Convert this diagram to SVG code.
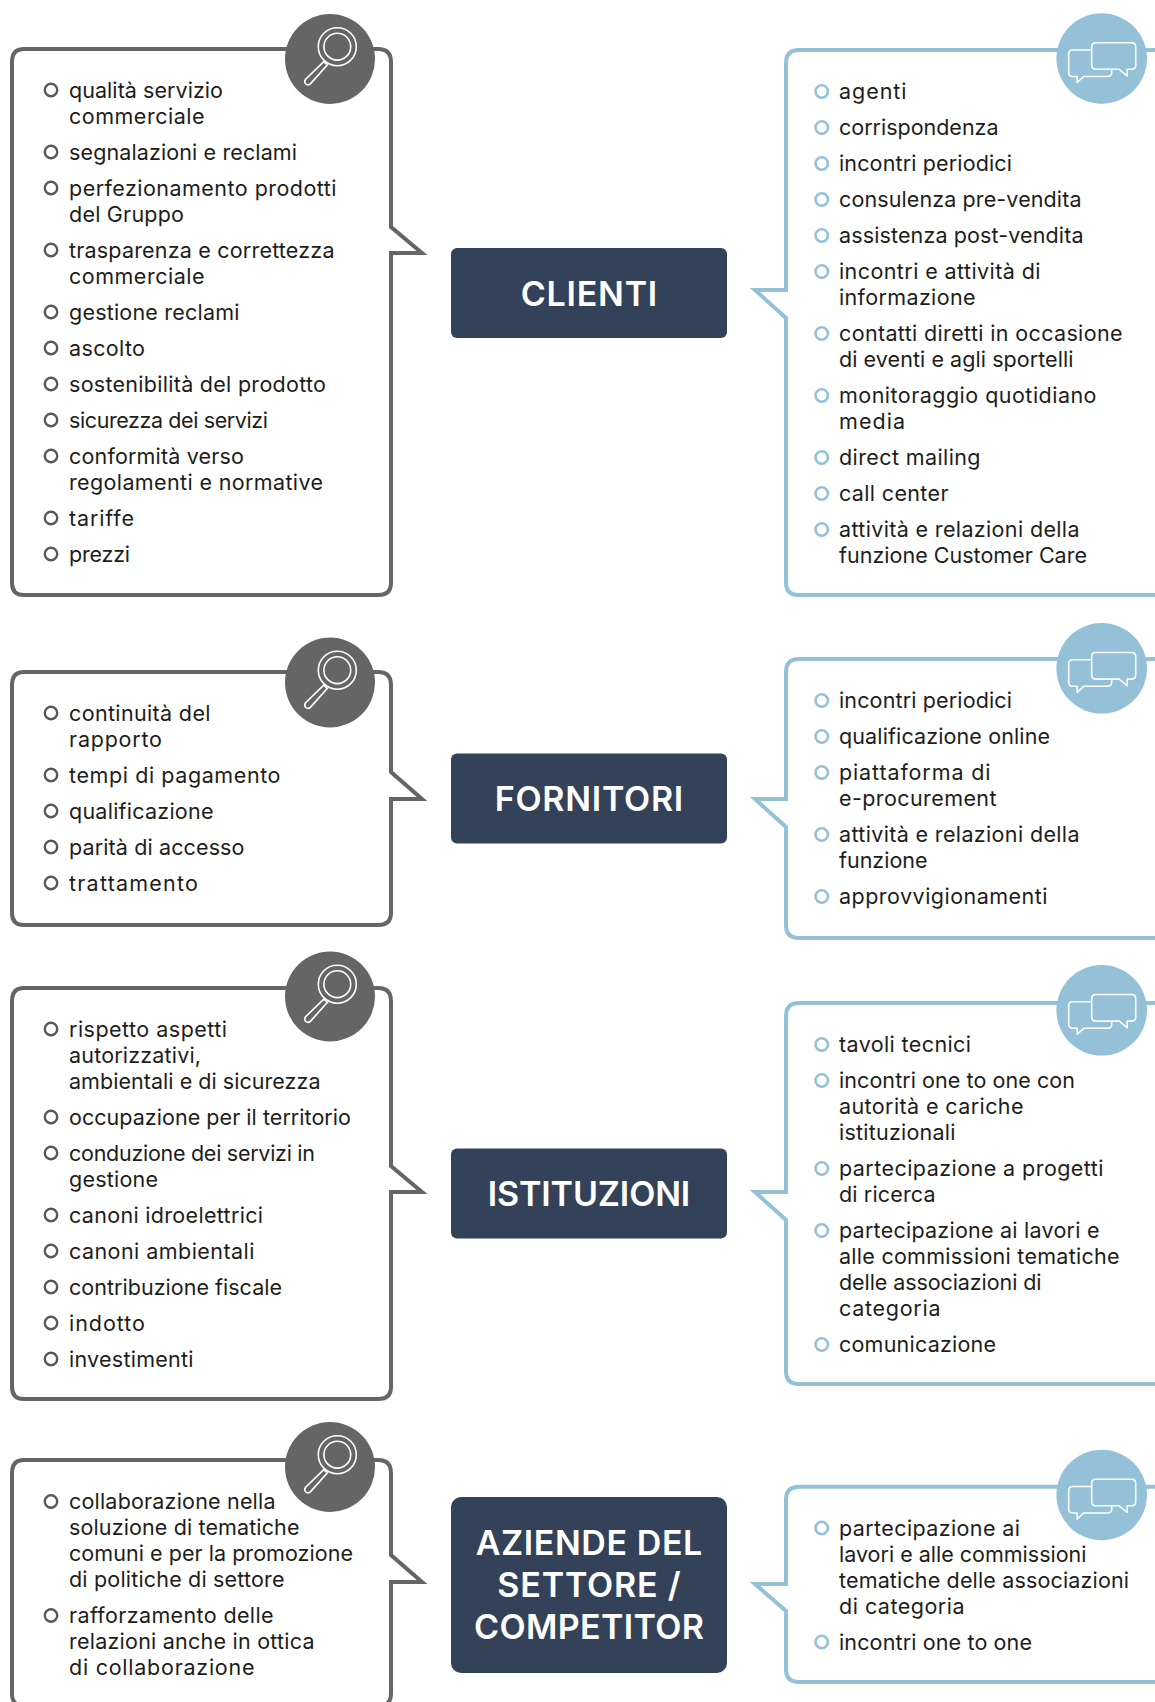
<svg xmlns="http://www.w3.org/2000/svg" width="1155" height="1702" viewBox="0 0 1155 1702">
<style>
text{font-family:"Inter","Lato","Liberation Sans",sans-serif;font-variant-ligatures:none}
.t{font-size:21.5px;fill:#1d1d1b}
.h{font-size:34px;font-weight:600;fill:#fff;text-anchor:middle}
.lb{fill:none;stroke:#666566;stroke-width:4;stroke-linejoin:miter}
.rb{fill:none;stroke:#94c1d8;stroke-width:4;stroke-linejoin:miter}
.ld{fill:none;stroke:#58585a;stroke-width:2.4}
.rd{fill:none;stroke:#94c1d8;stroke-width:2.6}
.c{fill:#334259}
</style>
<defs>
<g id="lens">
<circle r="45" fill="#666566"/>
<g fill="none" stroke="#fff" stroke-width="1.6">
<circle cx="7.3" cy="-12.3" r="19"/>
<circle cx="7.3" cy="-12.3" r="13.4"/>
<path d="M-6.2 2.6L-2.6 5.8L-19.4 24.6C-21 26.2 -22.8 26.2 -24.2 25C-25.6 23.6 -25.6 21.8 -24.4 20.2Z"/>
</g>
</g>
<g id="talk">
<circle r="45.300" fill="#94c1d8"/>
<g fill="#94c1d8" stroke="#fff" stroke-width="1.6" stroke-linejoin="round">
<path d="M-29 -8.5H6C8.5 -8.5 10 -7 10 -4.5V14C10 16.5 8.5 18 6 18H-18L-24.500 24V18H-29C-31.500 18 -33 16.500 -33 14V-4.500C-33 -7 -31.500 -8.500 -29 -8.500Z"/>
<path d="M-6 -15.800H30C32.500 -15.800 34 -14.300 34 -11.800V6.800C34 9.300 32.500 10.800 30 10.800H25.500V17.500L17.500 10.800H-6C-8.500 10.800 -10 9.300 -10 6.800V-11.800C-10 -14.300 -8.500 -15.800 -6 -15.800Z"/>
</g>
</g>
</defs>
<rect width="1155" height="1702" fill="#fff"/>

<g id="clienti-ascolto">
<path class="lb" d="M391 227V62Q391 49 378 49H24Q12 49 12 62V583Q12 595 24 595H378Q391 595 391 583V253H422L391 227Z"/>
<use href="#lens" x="330" y="59"/>
<g class="ld"><circle cx="51" cy="90" r="6.2"/><circle cx="51" cy="152" r="6.2"/><circle cx="51" cy="188" r="6.2"/><circle cx="51" cy="250" r="6.2"/><circle cx="51" cy="312" r="6.2"/><circle cx="51" cy="348" r="6.2"/><circle cx="51" cy="384" r="6.2"/><circle cx="51" cy="420" r="6.2"/><circle cx="51" cy="456" r="6.2"/><circle cx="51" cy="518" r="6.2"/><circle cx="51" cy="554" r="6.2"/></g>
<g class="t">
<text x="69" y="97.700" textLength="154">qualità servizio</text><text x="69" y="123.700" textLength="135.500">commerciale</text>
<text x="69" y="159.700" textLength="228">segnalazioni e reclami</text>
<text x="69" y="195.700" textLength="267.500">perfezionamento prodotti</text><text x="69" y="221.700" textLength="115">del Gruppo</text>
<text x="69" y="257.700" textLength="265.500">trasparenza e correttezza</text><text x="69" y="283.700" textLength="135.500">commerciale</text>
<text x="69" y="319.700" textLength="170.500">gestione reclami</text>
<text x="69" y="355.700" textLength="76">ascolto</text>
<text x="69" y="391.700" textLength="257">sostenibilità del prodotto</text>
<text x="69" y="427.700" textLength="199">sicurezza dei servizi</text>
<text x="69" y="464" textLength="175">conformità verso</text><text x="69" y="490" textLength="254">regolamenti e normative</text>
<text x="69" y="526" textLength="65">tariffe</text>
<text x="69" y="562" textLength="61">prezzi</text>
</g>
</g>

<g id="clienti">
<rect class="c" x="451" y="248" width="276" height="90" rx="6"/>
<text class="h" x="589" y="305.700" textLength="136.500">CLIENTI</text>
</g>

<g id="clienti-dialogo">
<path class="rb" d="M1157 50H799Q786 50 786 63V290H755L786 318V583Q786 595 799 595H1157"/>
<use href="#talk" x="1101.700" y="58.500"/>
<g class="rd"><circle cx="821.700" cy="91.500" r="6.200"/><circle cx="821.700" cy="127.500" r="6.200"/><circle cx="821.700" cy="163.500" r="6.200"/><circle cx="821.700" cy="199.500" r="6.200"/><circle cx="821.700" cy="235.500" r="6.200"/><circle cx="821.700" cy="271.500" r="6.200"/><circle cx="821.700" cy="333.500" r="6.200"/><circle cx="821.700" cy="395.500" r="6.200"/><circle cx="821.700" cy="457.500" r="6.200"/><circle cx="821.700" cy="493.500" r="6.200"/><circle cx="821.700" cy="529.500" r="6.200"/></g>
<g class="t">
<text x="839" y="99" textLength="67.500">agenti</text>
<text x="839" y="135" textLength="159.500">corrispondenza</text>
<text x="839" y="171" textLength="173">incontri periodici</text>
<text x="839" y="207" textLength="242.500">consulenza pre-vendita</text>
<text x="839" y="243" textLength="244.500">assistenza post-vendita</text>
<text x="839" y="279" textLength="201.500">incontri e attività di</text><text x="839" y="305" textLength="136.500">informazione</text>
<text x="839" y="341" textLength="283.500">contatti diretti in occasione</text><text x="839" y="367" textLength="234.500">di eventi e agli sportelli</text>
<text x="839" y="403" textLength="257.500">monitoraggio quotidiano</text><text x="839" y="429" textLength="66">media</text>
<text x="839" y="465" textLength="141.500">direct mailing</text>
<text x="839" y="501" textLength="109.500">call center</text>
<text x="839" y="537" textLength="240.500">attività e relazioni della</text><text x="839" y="563" textLength="248">funzione Customer Care</text>
</g>
</g>

<g id="fornitori-ascolto">
<path class="lb" d="M391 772V685Q391 672 378 672H24Q12 672 12 685V913Q12 925 24 925H378Q391 925 391 913V799H422L391 772Z"/>
<use href="#lens" x="330" y="682.500"/>
<g class="ld"><circle cx="51" cy="713" r="6.200"/><circle cx="51" cy="775" r="6.200"/><circle cx="51" cy="811" r="6.200"/><circle cx="51" cy="847" r="6.200"/><circle cx="51" cy="883" r="6.200"/></g>
<g class="t">
<text x="69" y="720.800" textLength="141.500">continuità del</text><text x="69" y="746.800" textLength="93">rapporto</text>
<text x="69" y="782.800" textLength="211.500">tempi di pagamento</text>
<text x="69" y="818.800" textLength="144.500">qualificazione</text>
<text x="69" y="854.800" textLength="175.500">parità di accesso</text>
<text x="69" y="890.800" textLength="129">trattamento</text>
</g>
</g>

<g id="fornitori">
<rect class="c" x="451" y="753.500" width="276" height="90" rx="6"/>
<text class="h" x="589" y="811" textLength="188.500">FORNITORI</text>
</g>

<g id="fornitori-dialogo">
<path class="rb" d="M1157 659H799Q786 659 786 672V799H755L786 827V925Q786 938 799 938H1157"/>
<use href="#talk" x="1101.700" y="668.300"/>
<g class="rd"><circle cx="821.700" cy="700.500" r="6.200"/><circle cx="821.700" cy="736.500" r="6.200"/><circle cx="821.700" cy="772.500" r="6.200"/><circle cx="821.700" cy="834.500" r="6.200"/><circle cx="821.700" cy="896.500" r="6.200"/></g>
<g class="t">
<text x="839" y="708.300" textLength="173">incontri periodici</text>
<text x="839" y="744.300" textLength="211">qualificazione online</text>
<text x="839" y="780.300" textLength="151.500">piattaforma di</text><text x="839" y="806.300" textLength="157.500">e-procurement</text>
<text x="839" y="842.300" textLength="240.500">attività e relazioni della</text><text x="839" y="868.300" textLength="88.500">funzione</text>
<text x="839" y="904.300" textLength="208.500">approvvigionamenti</text>
</g>
</g>

<g id="istituzioni-ascolto">
<path class="lb" d="M391 1166V1001Q391 988 378 988H24Q12 988 12 1001V1387Q12 1399 24 1399H378Q391 1399 391 1387V1192H422L391 1166Z"/>
<use href="#lens" x="330" y="996.500"/>
<g class="ld"><circle cx="51" cy="1029" r="6.200"/><circle cx="51" cy="1117" r="6.200"/><circle cx="51" cy="1153" r="6.200"/><circle cx="51" cy="1215" r="6.200"/><circle cx="51" cy="1251" r="6.200"/><circle cx="51" cy="1287" r="6.200"/><circle cx="51" cy="1323" r="6.200"/><circle cx="51" cy="1359" r="6.200"/></g>
<g class="t">
<text x="69" y="1036.700" textLength="158">rispetto aspetti</text><text x="69" y="1062.700" textLength="132">autorizzativi,</text><text x="69" y="1088.700" textLength="251.500">ambientali e di sicurezza</text>
<text x="69" y="1124.700" textLength="282">occupazione per il territorio</text>
<text x="69" y="1160.700" textLength="246">conduzione dei servizi in</text><text x="69" y="1186.700" textLength="89">gestione</text>
<text x="69" y="1222.700" textLength="194">canoni idroelettrici</text>
<text x="69" y="1258.700" textLength="185.500">canoni ambientali</text>
<text x="69" y="1294.700" textLength="213">contribuzione fiscale</text>
<text x="69" y="1330.700" textLength="76">indotto</text>
<text x="69" y="1366.700" textLength="124.500">investimenti</text>
</g>
</g>

<g id="istituzioni">
<rect class="c" x="451" y="1148.500" width="276" height="90" rx="6"/>
<text class="h" x="589" y="1205.500" textLength="202.500">ISTITUZIONI</text>
</g>

<g id="istituzioni-dialogo">
<path class="rb" d="M1157 1003H799Q786 1003 786 1016V1192H755L786 1220V1371Q786 1384 799 1384H1157"/>
<use href="#talk" x="1101.700" y="1010.300"/>
<g class="rd"><circle cx="821.700" cy="1044.500" r="6.200"/><circle cx="821.700" cy="1080.500" r="6.200"/><circle cx="821.700" cy="1168.500" r="6.200"/><circle cx="821.700" cy="1230.500" r="6.200"/><circle cx="821.700" cy="1344.500" r="6.200"/></g>
<g class="t">
<text x="839" y="1052.300" textLength="132">tavoli tecnici</text>
<text x="839" y="1088.300" textLength="236">incontri one to one con</text><text x="839" y="1114.300" textLength="184.500">autorità e cariche</text><text x="839" y="1140.300" textLength="116.500">istituzionali</text>
<text x="839" y="1176.300" textLength="264.500">partecipazione a progetti</text><text x="839" y="1202.300" textLength="96.500">di ricerca</text>
<text x="839" y="1238.300" textLength="260.500">partecipazione ai lavori e</text><text x="839" y="1264.300" textLength="280.500">alle commissioni tematiche</text><text x="839" y="1290.300" textLength="202.500">delle associazioni di</text><text x="839" y="1316.300" textLength="101.500">categoria</text>
<text x="839" y="1352.300" textLength="157">comunicazione</text>
</g>
</g>

<g id="aziende-ascolto">
<path class="lb" d="M391 1555V1473Q391 1460 378 1460H24Q12 1460 12 1473V1694Q12 1706 24 1706H378Q391 1706 391 1694V1582H422L391 1555Z"/>
<use href="#lens" x="330" y="1467"/>
<g class="ld"><circle cx="51" cy="1501.500" r="6.200"/><circle cx="51" cy="1615.500" r="6.200"/></g>
<g class="t">
<text x="69" y="1509.300" textLength="206.500">collaborazione nella</text><text x="69" y="1535.300" textLength="230.500">soluzione di tematiche</text><text x="69" y="1561.300" textLength="284">comuni e per la promozione</text><text x="69" y="1587.300" textLength="215.500">di politiche di settore</text>
<text x="69" y="1623.300" textLength="204.500">rafforzamento delle</text><text x="69" y="1649.300" textLength="245.500">relazioni anche in ottica</text><text x="69" y="1675.300" textLength="185.500">di collaborazione</text>
</g>
</g>

<g id="aziende">
<rect class="c" x="451" y="1497" width="276" height="176" rx="10"/>
<text class="h" x="589" y="1554.500" textLength="226.700">AZIENDE DEL</text>
<text class="h" x="589" y="1596.500" textLength="183.300">SETTORE /</text>
<text class="h" x="589" y="1639" textLength="230">COMPETITOR</text>
</g>

<g id="aziende-dialogo">
<path class="rb" d="M1157 1486.700H799Q786 1486.700 786 1499.700V1584H755L786 1611V1669Q786 1682 799 1682H1157"/>
<use href="#talk" x="1101.700" y="1495"/>
<g class="rd"><circle cx="821.700" cy="1528" r="6.200"/><circle cx="821.700" cy="1642" r="6.200"/></g>
<g class="t">
<text x="839" y="1536" textLength="181">partecipazione ai</text><text x="839" y="1562" textLength="247.500">lavori e alle commissioni</text><text x="839" y="1588" textLength="290">tematiche delle associazioni</text><text x="839" y="1614" textLength="125.500">di categoria</text>
<text x="839" y="1650.300" textLength="193">incontri one to one</text>
</g>
</g>
</svg>
